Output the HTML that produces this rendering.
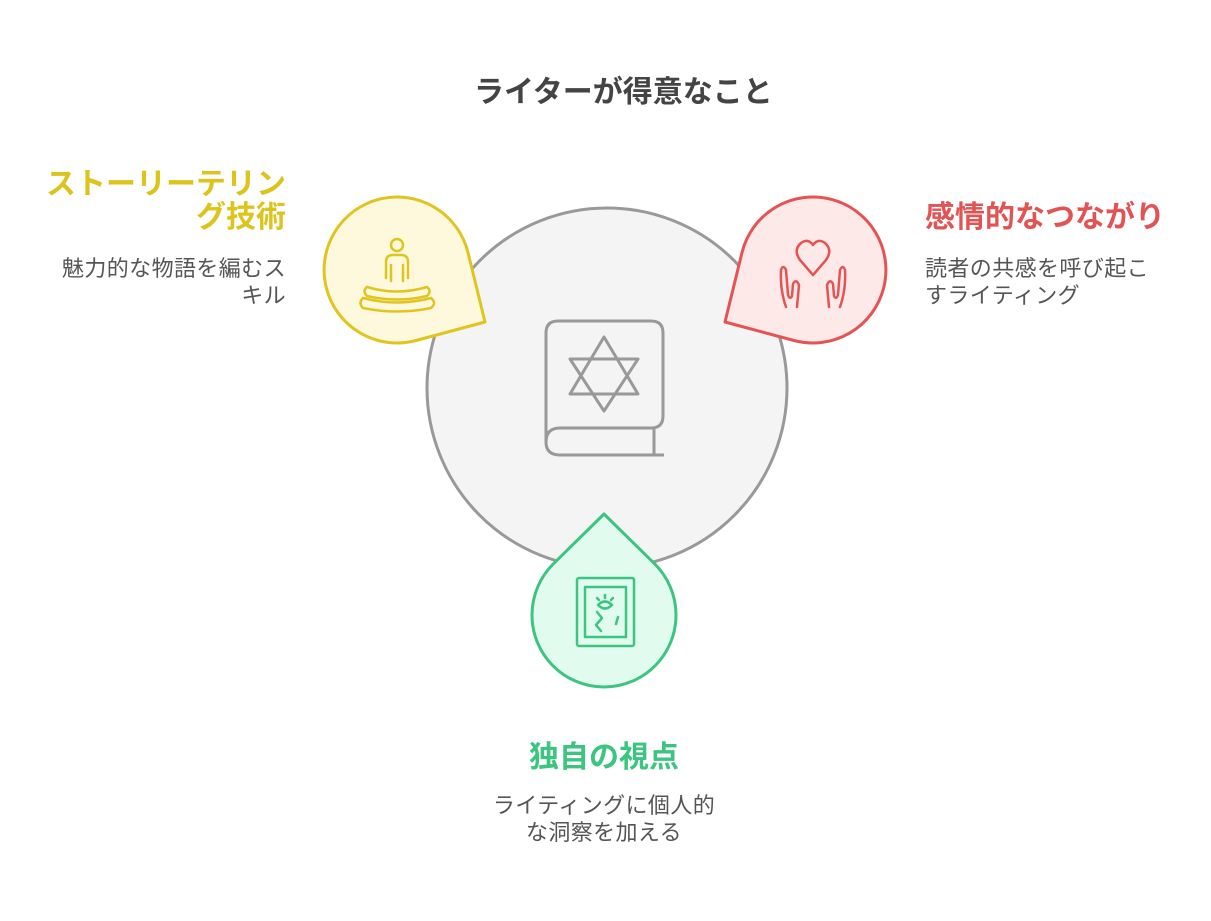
<!DOCTYPE html>
<html><head><meta charset="utf-8"><style>
body{margin:0;background:#fff;width:1211px;height:921px;overflow:hidden;position:relative;font-family:"Liberation Sans","Noto Sans CJK JP",sans-serif}
.t{position:absolute;white-space:nowrap}
.h{font-weight:bold;font-size:30px;line-height:33px}
.d{font-size:22px;line-height:27px;color:#555;letter-spacing:0.4px}
</style></head><body>
<svg width="1211" height="921" style="position:absolute;left:0;top:0">
<circle cx="607" cy="388" r="180" fill="#f4f4f4" stroke="#999" stroke-width="3"/>
<path d="M485 322 L416 340.5 A73 73 0 1 1 468 252.6 Z" fill="#fef9dc" stroke="#e0c520" stroke-width="3" stroke-linejoin="round"/>
<path d="M725 322 L794 340.5 A73 73 0 1 0 742 252.6 Z" fill="#fee9e9" stroke="#e45454" stroke-width="3" stroke-linejoin="round"/>
<path d="M604 514 L654.5 563.7 A72 72 0 1 1 553.5 563.7 Z" fill="#e1fcef" stroke="#3cc581" stroke-width="3" stroke-linejoin="round"/>
<g fill="none" stroke="#999" stroke-width="3" stroke-linejoin="round">
<path d="M560 428 Q546 428 546 442 L546 333 Q546 321 558 321 L651 321 Q663 321 663 333 L663 416 Q663 428 651 428 L560 428 Q546 428 546 442 Q546 455 560 455 L664 455 M654 428 L654 455"/>
<path d="M604 337 L638 394 L570 394 Z M604 411 L638 359 L570 359 Z"/>
</g>
<g fill="none" stroke="#e0c520" stroke-width="2.5" stroke-linecap="round">
<circle cx="397" cy="245" r="6"/>
<path d="M386 278 L386 262 Q386 255 393 255 L401 255 Q408 255 408 262 L408 278 M391 265 L391 281 M403 265 L403 281"/>
<path d="M367 287 Q397 296 427 287 Q432 291 427 296 Q397 303 367 296 Q362 291 367 287 Z"/>
<path d="M363 298 Q397 307 431 298 Q437 303 431 308 Q397 315 363 308 Q358 303 363 298 Z"/>
</g>
<g fill="none" stroke="#e45454" stroke-width="2.5" stroke-linecap="round" stroke-linejoin="round">
<path d="M813 275 L800 260 Q793 250 801 243 Q808 238 813 245 Q818 238 825 243 Q833 250 826 260 Z"/>
<path d="M786 307 Q780 290 781 270 Q783 264 786 270 L788 295 Q790 300 792 296 L793 284 Q796 278 799 285 L797 307"/>
<path d="M840 307 Q846 290 845 270 Q843 264 840 270 L838 295 Q836 300 834 296 L833 284 Q830 278 827 285 L829 307"/>
</g>
<g fill="none" stroke="#3cc581" stroke-width="2.5" stroke-linecap="round" stroke-linejoin="round">
<rect x="577" y="578" width="57" height="68" rx="2"/>
<rect x="585" y="587" width="41" height="50"/>
<path d="M598 605 Q605 598 612 605 Q605 612 598 605 Z"/>
<path d="M597 598 L599 600 M605 595 L605 598 M613 598 L611 600 M597 612 L602 618 L596 625 L601 631 M618 617 L616 624"/>
</g>
</svg>
<div class="t h" style="left:474px;top:76px;color:#444">ライターが得意なこと</div>
<div class="t h" style="right:925px;top:168px;color:#dcc41c;text-align:right">ストーリーテリン<br>グ技術</div>
<div class="t d" style="right:925px;top:255px;text-align:right">魅力的な物語を編むス<br>キル</div>
<div class="t h" style="left:925px;top:201px;color:#e25353">感情的なつながり</div>
<div class="t d" style="left:925px;top:255px">読者の共感を呼び起こ<br>すライティング</div>
<div class="t h" style="left:529px;top:741px;color:#3cc581">独自の視点</div>
<div class="t d" style="left:0;width:1208px;top:792px;text-align:center">ライティングに個人的<br>な洞察を加える</div>
</body></html>
